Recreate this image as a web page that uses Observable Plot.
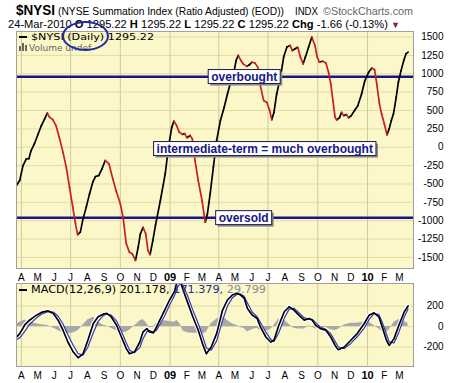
<!DOCTYPE html>
<html><head><meta charset="utf-8">
<script src="https://cdn.jsdelivr.net/npm/d3@7"></script>
<script src="https://cdn.jsdelivr.net/npm/@observablehq/plot@0.6"></script>
<style>
body{margin:0;background:#fff;}
#wrap{position:relative;width:461px;height:383px;font-family:"Liberation Sans",Arial,sans-serif;overflow:hidden;color:#000}
.abs{position:absolute;white-space:nowrap}
.fit{transform-origin:0 50%}
.leg{font-family:"DejaVu Sans",sans-serif;font-size:10px;line-height:12px}
.dash{position:absolute;width:8px;height:2px;background:#000}
#head text{font-family:"Liberation Sans",Arial,sans-serif}
</style></head><body>
<div id="wrap">
  <div id="main" class="abs" style="left:0;top:30px"></div>
  <div id="macd" class="abs" style="left:0;top:282px"></div>
  <svg id="head" class="abs" style="left:0;top:0" width="461" height="31">
    <text x="16" y="15" font-size="14" font-weight="bold" textLength="39" lengthAdjust="spacingAndGlyphs">$NYSI</text>
    <text x="58" y="15" font-size="11" textLength="226" lengthAdjust="spacingAndGlyphs">(NYSE Summation Index (Ratio Adjusted) (EOD))</text>
    <text x="295" y="15" font-size="10" textLength="23" lengthAdjust="spacingAndGlyphs">INDX</text>
    <text x="323" y="15" font-size="10.5" fill="#666" textLength="90" lengthAdjust="spacingAndGlyphs">©StockCharts.com</text>
    <text x="8" y="28" font-size="11" textLength="392" lengthAdjust="spacingAndGlyphs">24-Mar-2010  <tspan font-weight="bold">O</tspan> 1295.22  <tspan font-weight="bold">H</tspan> 1295.22  <tspan font-weight="bold">L</tspan> 1295.22  <tspan font-weight="bold">C</tspan> 1295.22  <tspan font-weight="bold">Chg</tspan> -1.66 (-0.13%) <tspan fill="#8a1c4a" font-size="9">▼</tspan></text>
  </svg>
  <div class="dash" style="left:19px;top:36px"></div>
  <div class="abs leg fit" data-w="123" style="left:31px;top:31px;font-size:9.5px">$NYSI <span id="daily">(Daily)</span> 1295.22</div>
  <div class="abs leg" style="left:19px;top:42px;color:#666;font-size:9px"><span style="display:inline-block;width:2px;height:5px;background:#666;margin-right:1px"></span><span style="display:inline-block;width:2px;height:8px;background:#666;margin-right:1px"></span><span style="display:inline-block;width:2px;height:6px;background:#666;margin-right:2px"></span>Volume undef</div>
  <div id="ellipse" class="abs" style="border:2px solid #1f2a9e;border-radius:50%;box-sizing:border-box"></div>
  <div class="dash" style="left:19px;top:289px"></div>
  <div class="abs leg fit" data-w="235" style="left:31px;top:284px">MACD(12,26,9) 201.178, <span style="color:#2a2a8c">171.379,</span> <span style="color:#8c8c8c">29.799</span></div>
</div>
<script>
// ---------- data ----------
const nysiDates = ["2008-03-23","2008-03-29","2008-04-04","2008-04-10","2008-04-15","2008-04-19","2008-04-25","2008-05-02","2008-05-08","2008-05-14","2008-05-19","2008-05-23","2008-05-29","2008-06-04","2008-06-10","2008-06-17","2008-06-23","2008-06-29","2008-07-05","2008-07-10","2008-07-14","2008-07-19","2008-07-24","2008-07-30","2008-08-05","2008-08-11","2008-08-16","2008-08-22","2008-08-28","2008-09-03","2008-09-10","2008-09-17","2008-09-23","2008-10-01","2008-10-06","2008-10-12","2008-10-18","2008-10-23","2008-10-29","2008-11-03","2008-11-07","2008-11-12","2008-11-17","2008-11-21","2008-11-25","2008-11-30","2008-12-05","2008-12-14","2008-12-23","2008-12-29","2009-01-04","2009-01-08","2009-01-13","2009-01-18","2009-01-24","2009-01-28","2009-02-01","2009-02-07","2009-02-11","2009-02-16","2009-02-22","2009-03-01","2009-03-07","2009-03-11","2009-03-16","2009-03-22","2009-03-28","2009-04-04","2009-04-11","2009-04-17","2009-04-23","2009-04-29","2009-05-03","2009-05-07","2009-05-12","2009-05-16","2009-05-23","2009-05-28","2009-06-01","2009-06-07","2009-06-12","2009-06-16","2009-06-23","2009-06-29","2009-07-04","2009-07-08","2009-07-12","2009-07-17","2009-07-24","2009-07-30","2009-08-05","2009-08-11","2009-08-15","2009-08-20","2009-08-25","2009-08-30","2009-09-04","2009-09-08","2009-09-14","2009-09-20","2009-09-26","2009-09-30","2009-10-04","2009-10-10","2009-10-16","2009-10-21","2009-10-25","2009-10-29","2009-11-02","2009-11-05","2009-11-10","2009-11-14","2009-11-18","2009-11-23","2009-11-27","2009-12-02","2009-12-08","2009-12-14","2009-12-21","2009-12-27","2010-01-03","2010-01-09","2010-01-14","2010-01-18","2010-01-23","2010-01-27","2010-02-01","2010-02-06","2010-02-10","2010-02-14","2010-02-18","2010-02-23","2010-02-27","2010-03-04","2010-03-09","2010-03-13","2010-03-17"];
const nysiValues = [-520,-450,-250,-160,-155,-45,45,180,295,385,465,410,375,295,135,-70,-270,-545,-815,-1040,-1190,-1155,-975,-815,-635,-475,-400,-385,-295,-180,-225,-430,-590,-770,-950,-1315,-1430,-1450,-1540,-1360,-1180,-1090,-1180,-1405,-1460,-1270,-1060,-725,-360,0,270,355,295,205,175,185,130,160,115,-180,-455,-725,-1020,-905,-635,-270,90,365,545,725,885,1020,1180,1250,1180,1135,1100,1125,1157,1145,1090,865,635,610,500,375,475,725,950,1230,1365,1385,1315,1340,1360,1225,1135,1225,1360,1500,1380,1225,1160,1170,1145,1020,865,635,410,373,400,475,430,445,400,430,500,565,725,905,1020,1078,1055,865,590,455,320,170,250,365,455,680,885,1043,1180,1270,1295];

const macdDates = ["2008-03-23","2008-03-29","2008-04-07","2008-04-16","2008-04-29","2008-05-08","2008-05-20","2008-05-30","2008-06-08","2008-06-17","2008-06-26","2008-07-06","2008-07-15","2008-07-24","2008-08-02","2008-08-12","2008-08-21","2008-08-30","2008-09-06","2008-09-14","2008-09-24","2008-10-03","2008-10-12","2008-10-18","2008-10-27","2008-11-06","2008-11-12","2008-11-19","2008-11-24","2008-12-01","2008-12-07","2008-12-13","2008-12-22","2008-12-31","2009-01-09","2009-01-14","2009-01-20","2009-01-25","2009-02-03","2009-02-12","2009-02-22","2009-03-03","2009-03-09","2009-03-18","2009-03-28","2009-04-08","2009-04-17","2009-04-26","2009-05-05","2009-05-11","2009-05-18","2009-05-24","2009-06-02","2009-06-11","2009-06-17","2009-06-27","2009-07-06","2009-07-12","2009-07-21","2009-07-31","2009-08-09","2009-08-18","2009-08-27","2009-09-06","2009-09-15","2009-09-21","2009-09-27","2009-10-06","2009-10-16","2009-10-25","2009-11-02","2009-11-08","2009-11-19","2009-12-01","2009-12-13","2009-12-26","2010-01-04","2010-01-13","2010-01-22","2010-01-28","2010-02-05","2010-02-10","2010-02-19","2010-02-28","2010-03-10","2010-03-17"];
const macdValues = [-105,-69,13,62,111,138,154,128,62,-36,-151,-249,-305,-266,-134,30,95,121,128,95,13,-102,-216,-266,-249,-151,-52,-20,-52,-62,-3,62,161,259,341,440,440,357,226,95,-36,-184,-266,-200,-69,161,259,308,325,308,276,177,111,79,-3,-102,-151,-134,13,144,193,161,111,62,79,62,13,-20,-36,-102,-184,-226,-200,-134,-69,30,111,134,95,-3,-134,-184,-118,13,144,201];
const signalValues = [-130,-110,-50,20,85,120,145,142,100,25,-80,-185,-265,-280,-200,-60,50,105,122,112,55,-45,-160,-230,-255,-205,-120,-50,-40,-55,-35,20,105,210,300,380,420,400,290,160,30,-110,-210,-230,-140,60,200,280,315,318,295,230,140,95,40,-55,-125,-145,-60,80,170,178,135,85,72,70,38,-5,-28,-70,-145,-200,-215,-165,-100,-15,70,125,118,45,-75,-150,-160,-55,95,171];
const histValues = [25,41,63,42,26,18,9,-14,-38,-61,-71,-64,-40,14,66,90,45,16,6,-17,-42,-57,-56,-36,6,54,68,30,-12,-7,32,42,56,49,41,60,20,-43,-64,-65,-66,-74,-56,30,71,101,59,28,10,-10,-19,-53,-29,-16,-43,-47,-26,11,73,64,23,-17,-24,-23,7,-8,-25,-15,-8,-32,-39,-26,15,31,31,45,41,9,-23,-48,-59,-34,42,68,49,30];

const overbought = 960, oversold = -960;
const annoLabels = ["overbought","intermediate-term = much overbought","oversold"];
const annoDates = ["2009-05-18","2009-06-25","2009-05-17"];
const annoValues = [overbought,-20,oversold];

const yTicks = [1500,1250,1000,750,500,250,0,-250,-500,-750,-1000,-1250,-1500];
const macdTicks = [200,0,-200];
const xStart = "2008-03-23", xEnd = "2010-03-27";

// ---------- styles ----------
const BG = "#fbf7c8", GRID = "#e2dda6", VGRID = "#cfcba0", NAVY = "#16168a";
const styleObj = {background:"transparent", fontFamily:"'Liberation Sans', Arial, sans-serif", fontSize:"10px", color:"#000", overflow:"visible"};

// ---------- tables ----------
const nysi = nysiDates.map((d,i)=>({date:new Date(d), value:nysiValues[i]}));
const segs = d3.pairs(nysi).map(([a,b])=>({x1:a.date,y1:a.value,x2:b.date,y2:b.value,down:b.value<a.value}));
const macd = macdDates.map((d,i)=>({date:new Date(d), macd:macdValues[i], signal:signalValues[i], hist:histValues[i]}));
const annos = annoLabels.map((t,i)=>({label:t, date:new Date(annoDates[i]), value:annoValues[i]}));

const xDomain = [new Date(xStart), new Date(xEnd)];
const monthTicks = d3.utcMonth.range(new Date("2008-04-01"), new Date("2010-03-02"));
const janTicks = monthTicks.filter(d=>d.getUTCMonth()===0);
const otherTicks = monthTicks.filter(d=>d.getUTCMonth()!==0);
const quarterTicks = monthTicks.filter(d=>d.getUTCMonth()%3===0);
const fmtMonth = d=>d3.utcFormat("%b")(d)[0];
const fmtYear = d3.utcFormat("%y");

function xAxes(){
  return [
    Plot.axisX(otherTicks,{anchor:"bottom",tickSize:0,tickPadding:5,tickFormat:fmtMonth}),
    Plot.axisX(janTicks,{anchor:"bottom",tickSize:0,tickPadding:5,tickFormat:fmtYear,fontWeight:"bold",fontSize:11})
  ];
}

const mainSvg = Plot.plot({
  width:461, height:253, marginTop:1, marginBottom:15, marginLeft:16, marginRight:48,
  x:{type:"utc", domain:xDomain},
  y:{domain:[-1650,1575]},
  style:styleObj,
  marks:[
    Plot.frame({fill:BG}),
    Plot.gridY(yTicks,{stroke:GRID,strokeOpacity:1}),
    Plot.gridX(quarterTicks,{stroke:VGRID,strokeOpacity:1}),
    Plot.ruleY([overbought,oversold],{stroke:NAVY,strokeWidth:2.5}),
    Plot.link(segs.filter(d=>!d.down),{x1:"x1",y1:"y1",x2:"x2",y2:"y2",stroke:"#000",strokeWidth:1.7,strokeLinecap:"round",clip:true}),
    Plot.link(segs.filter(d=>d.down),{x1:"x1",y1:"y1",x2:"x2",y2:"y2",stroke:"#c8201e",strokeWidth:1.7,strokeLinecap:"round",clip:true}),
    Plot.text(annos,{x:"date",y:"value",text:"label",fontWeight:"bold",fontSize:12,fill:NAVY}),
    Plot.axisY(yTicks,{anchor:"right",tickSize:0,tickPadding:30,textAnchor:"end",tickFormat:d=>String(d)}),
    ...xAxes(),
    Plot.frame({stroke:"#a0a0a0"})
  ]
});
document.getElementById("main").appendChild(mainSvg);

// boxes behind annotation labels
const NS = "http://www.w3.org/2000/svg";
Array.from(mainSvg.querySelectorAll("text")).filter(t=>annoLabels.includes(t.textContent)).forEach(t=>{
  const b = t.getBBox();
  const px = 3, py = 0;
  const tr = t.getAttribute("transform");
  const mk = (dx,dy,fill,stroke)=>{
    const r = document.createElementNS(NS,"rect");
    r.setAttribute("x", b.x-px+dx); r.setAttribute("y", b.y-py+dy);
    r.setAttribute("width", b.width+2*px); r.setAttribute("height", b.height+2*py);
    r.setAttribute("fill", fill);
    r.setAttribute("stroke", stroke || "none"); r.setAttribute("stroke-width", 1);
    if (tr) r.setAttribute("transform", tr);
    t.parentNode.insertBefore(r, t);
  };
  mk(2,2,"#8a8a8a",null);
  mk(0,0,"#fff","#1a1a50");
});

const macdSvg = Plot.plot({
  width:461, height:100, marginTop:1, marginBottom:16, marginLeft:16, marginRight:48,
  x:{type:"utc", domain:xDomain},
  y:{domain:[-390,420]},
  style:styleObj,
  marks:[
    Plot.frame({fill:BG}),
    Plot.gridY(macdTicks,{stroke:GRID,strokeOpacity:1}),
    Plot.gridX(quarterTicks,{stroke:VGRID,strokeOpacity:1}),
    Plot.areaY(macd,{x:"date",y:"hist",fill:"#a8a8a8",clip:true}),
    Plot.lineY(macd,{x:"date",y:"macd",stroke:"#fff",strokeWidth:4,clip:true}),
    Plot.lineY(macd,{x:"date",y:"signal",stroke:"#3535b5",strokeWidth:1.2,clip:true}),
    Plot.lineY(macd,{x:"date",y:"macd",stroke:"#000",strokeWidth:1.7,clip:true}),
    Plot.axisY(macdTicks,{anchor:"right",tickSize:0,tickPadding:30,textAnchor:"end",tickFormat:d=>String(d)}),
    ...xAxes(),
    Plot.frame({stroke:"#a0a0a0"})
  ]
});
document.getElementById("macd").appendChild(macdSvg);

// fit legend text pieces to their measured widths
document.querySelectorAll(".fit").forEach(e=>{
  const target = +e.dataset.w;
  const w = e.getBoundingClientRect().width;
  if (w > 0) e.style.transform = `scaleX(${target / w})`;
});

// hand-drawn style ellipse around "(Daily)"
const wrap = document.getElementById("wrap").getBoundingClientRect();
const dr = document.getElementById("daily").getBoundingClientRect();
const el = document.getElementById("ellipse");
const cx = dr.left - wrap.left + dr.width/2, cy = dr.top - wrap.top + dr.height/2 - 1;
const ew = dr.width + 10, eh = 30;
el.style.left = (cx - ew/2) + "px"; el.style.top = (cy - eh/2) + "px";
el.style.width = ew + "px"; el.style.height = eh + "px";
</script>
</body></html>
